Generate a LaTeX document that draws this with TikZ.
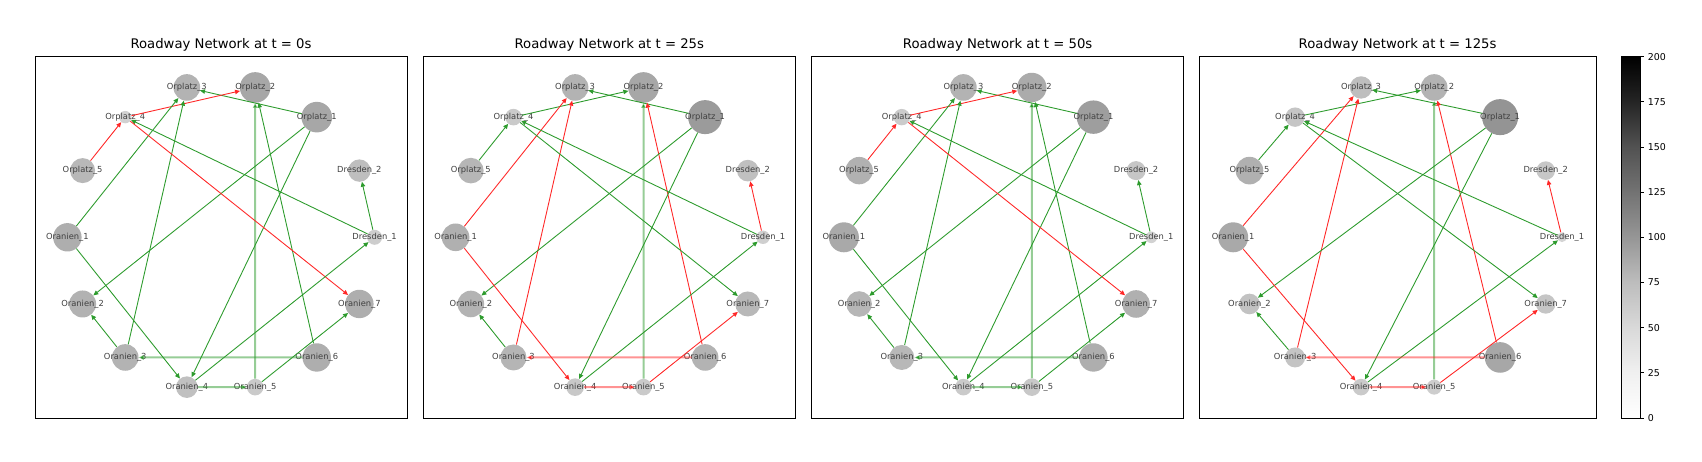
\documentclass[tikz,border=0pt]{standalone}
\usepackage{fontspec}
\setmainfont{DejaVu Sans}
\usetikzlibrary{arrows.meta}
\definecolor{flowgreen}{RGB}{45,155,45}
\definecolor{jamred}{RGB}{255,40,40}
\definecolor{grA}{HTML}{F0F0F0}
\definecolor{grB}{HTML}{D9D9D9}
\definecolor{grC}{HTML}{BDBDBD}
\definecolor{grD}{HTML}{969696}
\definecolor{grE}{HTML}{737373}
\definecolor{grF}{HTML}{525252}
\definecolor{grG}{HTML}{252525}
\pgfdeclareverticalshading{greys}{100bp}{color(0bp)=(white); color(25bp)=(white);
  color(31.25bp)=(grA); color(37.5bp)=(grB); color(43.75bp)=(grC); color(50bp)=(grD);
  color(56.25bp)=(grE); color(62.5bp)=(grF); color(68.75bp)=(grG); color(75bp)=(black);
  color(100bp)=(black)}

\begin{document}
\begin{tikzpicture}[x=0.9pt,y=-0.9pt,
  junction/.style={circle,inner sep=0pt,draw=none},
  lbl/.style={font=\fontsize{7.5}{8}\selectfont,text=black!75,inner sep=0pt},
  heading/.style={font=\fontsize{11.9}{14}\selectfont,anchor=base,inner sep=0pt},
  frame/.style={draw=black,line width=0.7pt},
  road/.style={-{Triangle[length=4.5pt,width=4pt]},line width=0.8pt},
  flow/.style={draw=flowgreen,fill=flowgreen},
  jam/.style={draw=jamred,fill=jamred},
  lane/.style={},
  bundle/.style={line width=1.8pt,draw opacity=0.5},
  tick/.style={font=\fontsize{8.5}{10}\selectfont,anchor=west,inner sep=0pt}]
\useasboundingbox (0,0) rectangle (1702,462);

\foreach \cx/\hw/\rx/\tm/\sizes [count=\pn] in {
    221/186/153.6/0/{7.5,11.2,15.3,15.3,13.3,6.2,12.5,14.2,13.5,13.3,10.8,8.3,14.2,14.2},
    609.3/186/153.7/25/{6.7,10.8,17,15.3,13.3,8.3,12.8,13.8,13.3,13,8.8,8.3,13.3,12.5},
    997.6/186/153.7/50/{5.8,9.5,16.7,14.7,13.3,8.2,13.7,15,12.8,12.5,8.3,8.8,14.2,13.8},
    1397.6/198.6/164.4/125/{4.8,9.3,18,13.3,11.2,9.7,13.8,15,10.3,10,8.3,7.5,15.3,9.7}} {
  \draw[frame] (\cx-\hw,56.7) rectangle (\cx+\hw,418);
  \node[heading] (title\pn) at (\cx,49) {Roadway Network at t = \tm s};
  \foreach \nm [count=\k from 0] in {Dresden\_1,Dresden\_2,Orplatz\_1,Orplatz\_2,Orplatz\_3,
      Orplatz\_4,Orplatz\_5,Oranien\_1,Oranien\_2,Oranien\_3,Oranien\_4,Oranien\_5,Oranien\_6,Oranien\_7} {
    \pgfmathsetmacro\r{{\sizes}[\k]}
    \pgfmathsetmacro\blk{14.9+0.0836*\r*\r}
    \node[junction,minimum size={1.8*\r pt},fill=black!\blk] (n\pn-\k)
      at ({\cx+\rx*cos(\k*360/14)},{237.3-153.7*sin(\k*360/14)}) {};
    \node[lbl] (l\pn-\k) at (n\pn-\k) {\nm};
  }
  \foreach \a/\b/\ca/\cb/\w in {2/4/flow/flow/lane, 5/3/jam/flow/lane, 6/5/jam/flow/lane,
      7/4/flow/jam/lane, 9/4/flow/jam/lane, 11/3/flow/flow/bundle, 12/3/flow/jam/lane,
      2/8/flow/flow/lane, 2/10/flow/flow/lane, 0/5/flow/flow/lane, 5/13/jam/flow/lane,
      0/1/flow/jam/lane, 10/0/flow/flow/lane, 11/13/flow/jam/lane, 7/10/flow/jam/lane,
      9/8/flow/flow/lane, 12/9/flow/jam/bundle, 10/11/flow/jam/bundle} {
    \ifodd\pn \def\col{\ca}\else\def\col{\cb}\fi
    \path[road,\col,\w] (n\pn-\a) edge (n\pn-\b);
  }
}

\shade[shading=greys] (1621.3,56.7) rectangle (1640,418);
\draw[frame] (1621.3,56.7) rectangle (1640,418);
\foreach \v in {0,25,...,200}
  \draw[line width=0.7pt] (1640,{418-\v/200*361.3}) -- (1643.5,{418-\v/200*361.3})
    node[tick,xshift=3.6pt] (t\v) {\v};
\end{tikzpicture}
\end{document}
